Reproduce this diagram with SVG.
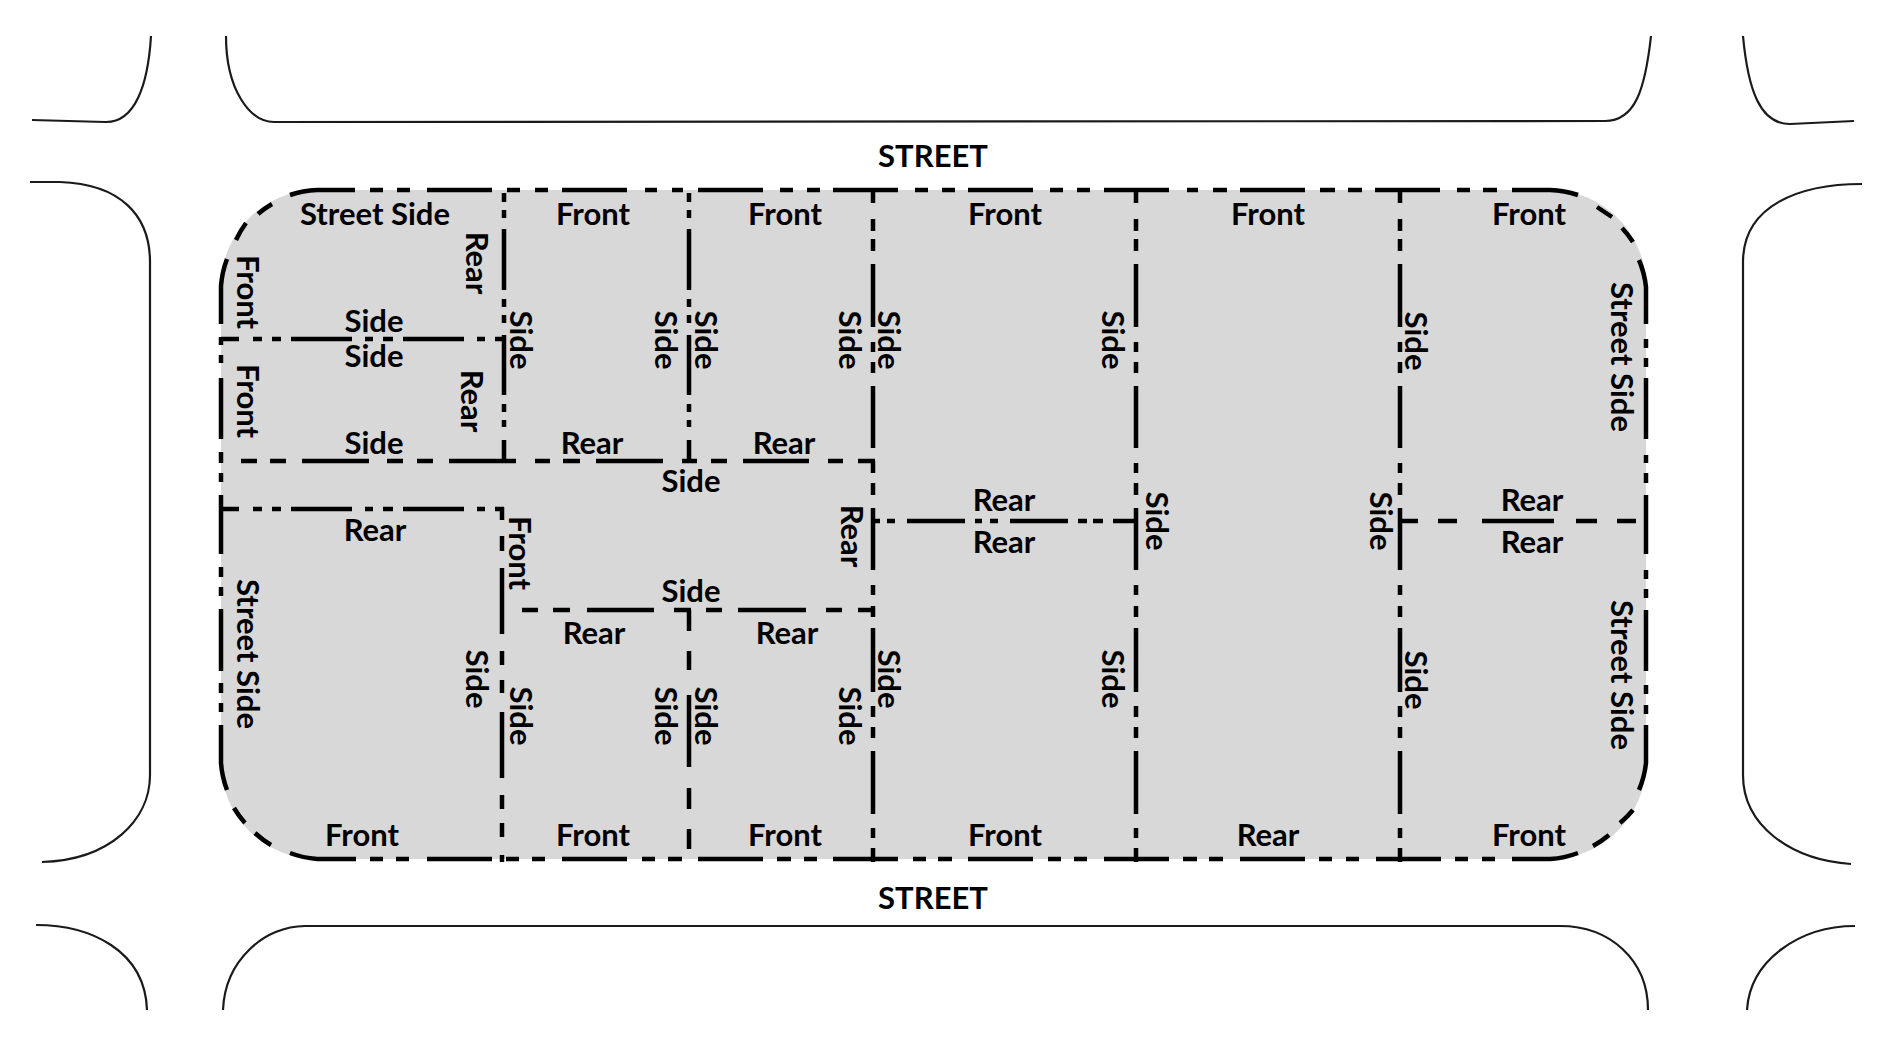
<svg xmlns="http://www.w3.org/2000/svg" width="1900" height="1048" viewBox="0 0 1900 1048">
<style>
.st{fill:none;stroke:#1a1a1a;stroke-width:2.2}
.ln{fill:none;stroke:#000;stroke-width:4.5;stroke-linecap:butt}
text{font-family:Lato,"Liberation Sans",sans-serif;font-weight:700;font-size:31px;fill:#000;text-anchor:middle}
</style>
<rect width="1900" height="1048" fill="#fff"/>
<g id="streets">
<path class="st" d="M32 120L105 122C135 123 148 85 151 36"/>
<path class="st" d="M226 36C226 90 250 122 274 122L1605 121C1635 121 1645 90 1651 36"/>
<path class="st" d="M1743 36C1748 90 1760 124 1790 124L1854 121"/>
<path class="st" d="M30 182L60 182C120 184 150 215 150 262L150 775C150 820 110 860 42 862"/>
<path class="st" d="M1862 184C1800 184 1743 205 1743 262L1743 775C1743 825 1790 860 1851 864"/>
<path class="st" d="M36 925C90 925 145 950 147 1010"/>
<path class="st" d="M223 1010C225 960 265 926 305 926L1560 926C1610 926 1648 960 1648 1010"/>
<path class="st" d="M1855 926C1800 926 1750 960 1747 1010"/>
</g>
<path id="block" d="M317 190H1550A96 96 0 0 1 1646 286V763A96 96 0 0 1 1550 859H317A96 96 0 0 1 221 763V286A96 96 0 0 1 317 190Z" fill="#d8d8d8"/>
<g id="connectors">
<path id="outline-top" class="ln" d="M290 195A96 96 0 0 1 317 190H355M370 190H383M397 190H410M427 190H492M507 190H520M535 190H548M562 190H627M645 190H657M672 190H683M698 190H763M780 190H793M807 190H820M833 190H898M915 190H928M942 190H955M968 190H1033M1050 190H1063M1077 190H1090M1104 190H1169M1187 190H1198M1213 190H1227M1240 190H1305M1320 190H1335M1348 190H1362M1375 190H1440M1457 190H1470M1483 190H1497M1512 190H1550A96 96 0 0 1 1578 195"/>
<path id="outline-right" class="ln" d="M1597 207L1612 217M1622 228A96 96 0 0 1 1633 242M1639 260A96 96 0 0 1 1646 287V324M1646 339V348M1646 358V367M1646 378V439M1646 455V463M1646 473V483M1646 495V554M1646 570V579M1646 589V598M1646 610V671M1646 685V694M1646 705V714M1646 725V763A96 96 0 0 1 1639 790M1633 810A96 96 0 0 1 1620 823M1609 835A96 96 0 0 1 1593 846"/>
<path id="outline-bottom" class="ln" d="M1578 853A96 96 0 0 1 1550 859H1512M1495 859H1482M1468 859H1455M1441 859H1376M1359 859H1346M1332 859H1319M1305 859H1240M1223 859H1209M1197 859H1183M1169 859H1104M1087 859H1074M1061 859H1048M1033 859H968M952 859H938M926 859H913M898 859H833M817 859H804M791 859H777M763 859H698M682 859H668M655 859H642M627 859H562M545 859H532M519 859H506M492 859H427M409 859H396M383 859H370M356 859H317A96 96 0 0 1 290 853"/>
<path id="outline-left" class="ln" d="M271 845A96 96 0 0 1 255 833M245 823A96 96 0 0 1 234 808M227 790A96 96 0 0 1 221 763V725M221 712V703M221 693V683M221 671V609M221 596V587M221 577V567M221 554V495M221 482V473M221 463V452M221 439V378M221 363V355M221 345V337M221 324V286A96 96 0 0 1 227 259M236 240A96 96 0 0 1 246 223M258 214A96 96 0 0 1 272 204"/>
<path id="v1" class="ln" d="M504 193V202M504 210V218M504 229V290M504 299V307M504 315V323M504 335V395M504 404V412M504 420V427M504 440V461"/>
<path id="v2" class="ln" d="M689 193V202M689 210V218M689 229V290M689 299V307M689 315V323M689 335V395M689 404V412M689 420V427M689 440V461M689 610V631M689 651V670M689 695V767M689 788V809M689 829V849"/>
<path id="v3" class="ln" d="M873 190V203M873 219V231M873 239V251M873 264V327M873 342V352M873 362V373M873 386V448M873 461V473M873 483V495M873 508V570M873 585V595M873 606V617M873 628V692M873 706V717M873 727V738M873 751V814M873 828V838M873 848V862"/>
<path id="v4" class="ln" d="M1136 190V203M1136 219V231M1136 239V251M1136 264V327M1136 342V352M1136 362V373M1136 386V448M1136 463V473M1136 483V495M1136 508V570M1136 585V595M1136 606V617M1136 628V692M1136 706V717M1136 727V738M1136 751V814M1136 828V838M1136 848V862"/>
<path id="v5" class="ln" d="M1400 190V203M1400 219V231M1400 239V251M1400 264V327M1400 342V352M1400 362V373M1400 386V448M1400 463V473M1400 483V495M1400 508V570M1400 585V595M1400 606V617M1400 628V692M1400 706V717M1400 727V738M1400 751V814M1400 828V838M1400 848V862"/>
<path id="v6" class="ln" d="M502 507V520M502 536V551M502 568V634M502 651V665M502 680V693M502 712V778M502 795V809M502 823V837M502 855V862"/>
<path id="h1" class="ln" d="M221 339H239M253 339H262M272 339H281M291 339H352M365 339H373M383 339H393M403 339H464M477 339H485M495 339H504"/>
<path id="h2" class="ln" d="M241 461H257M270 461H286M302 461H369M387 461H403M417 461H433M449 461H516M535 461H550M563 461H580M596 461H663M682 461H697M711 461H727M743 461H809M828 461H843M858 461H875"/>
<path id="h3" class="ln" d="M221 509H239M253 509H262M272 509H281M291 509H352M365 509H373M383 509H393M403 509H464M477 509H485M495 509H504"/>
<path id="h4" class="ln" d="M522 610H538M553 610H570M587 610H654M674 610H691M706 610H722M738 610H806M826 610H842M858 610H874"/>
<path id="h5" class="ln" d="M873 521H880M887 521H895M907 521H965M975 521H982M990 521H998M1010 521H1068M1078 521H1087M1093 521H1103M1113 521H1136"/>
<path id="h6" class="ln" d="M1400 521H1418M1438 521H1457M1482 521H1554M1576 521H1597M1617 521H1636"/>
</g>
<g id="labels">
<text x="933" y="167">STREET</text>
<text x="933" y="909">STREET</text>
<text x="375" y="225">Street Side</text>
<text x="593" y="225">Front</text>
<text x="785" y="225">Front</text>
<text x="1005" y="225">Front</text>
<text x="1268" y="225">Front</text>
<text x="1529" y="225">Front</text>
<text x="362" y="846">Front</text>
<text x="593" y="846">Front</text>
<text x="785" y="846">Front</text>
<text x="1005" y="846">Front</text>
<text x="1268" y="846">Rear</text>
<text x="1529" y="846">Front</text>
<text x="374" y="332">Side</text>
<text x="374" y="367">Side</text>
<text x="374" y="454">Side</text>
<text x="592" y="454">Rear</text>
<text x="784" y="454">Rear</text>
<text x="691" y="492">Side</text>
<text x="375" y="541">Rear</text>
<text x="691" y="602">Side</text>
<text x="594" y="644">Rear</text>
<text x="787" y="644">Rear</text>
<text x="1004" y="511">Rear</text>
<text x="1004" y="553">Rear</text>
<text x="1532" y="511">Rear</text>
<text x="1532" y="553">Rear</text>
<text transform="translate(237 292) rotate(90)">Front</text>
<text transform="translate(237 401) rotate(90)">Front</text>
<text transform="translate(466 263) rotate(90)">Rear</text>
<text transform="translate(461 401) rotate(90)">Rear</text>
<text transform="translate(510 340) rotate(90)">Side</text>
<text transform="translate(655 340) rotate(90)">Side</text>
<text transform="translate(695 340) rotate(90)">Side</text>
<text transform="translate(839 340) rotate(90)">Side</text>
<text transform="translate(878 340) rotate(90)">Side</text>
<text transform="translate(1102 340) rotate(90)">Side</text>
<text transform="translate(1405 341) rotate(90)">Side</text>
<text transform="translate(1611 357) rotate(90)">Street Side</text>
<text transform="translate(841 536) rotate(90)">Rear</text>
<text transform="translate(1146 521) rotate(90)">Side</text>
<text transform="translate(1370 521) rotate(90)">Side</text>
<text transform="translate(509 553) rotate(90)">Front</text>
<text transform="translate(237 654) rotate(90)">Street Side</text>
<text transform="translate(466 679) rotate(90)">Side</text>
<text transform="translate(510 716) rotate(90)">Side</text>
<text transform="translate(655 716) rotate(90)">Side</text>
<text transform="translate(695 716) rotate(90)">Side</text>
<text transform="translate(839 716) rotate(90)">Side</text>
<text transform="translate(878 679) rotate(90)">Side</text>
<text transform="translate(1102 679) rotate(90)">Side</text>
<text transform="translate(1405 680) rotate(90)">Side</text>
<text transform="translate(1611 675) rotate(90)">Street Side</text>
</g>
</svg>
